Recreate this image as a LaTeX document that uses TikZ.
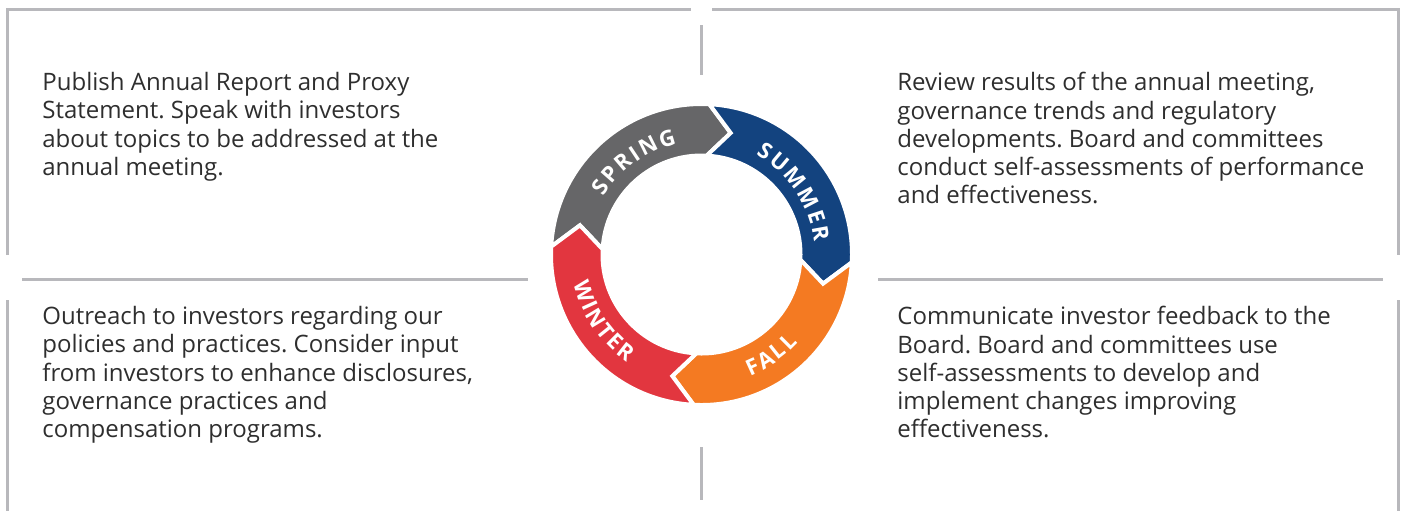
\documentclass[tikz,border=0pt]{standalone}
\usepackage{fontspec}
\setmainfont{Open Sans}
\newfontfamily\seasonfont{Open Sans}[WordSpace=0.4]
\usepackage{xcolor}
\usetikzlibrary{decorations.text}
\definecolor{rule}{HTML}{B8B8BC}
\definecolor{ink}{HTML}{2E2E2E}
\definecolor{springgray}{HTML}{666668}
\definecolor{summerblue}{HTML}{13437F}
\definecolor{fallorange}{HTML}{F47A22}
\definecolor{winterred}{HTML}{E2363F}
\frenchspacing
\tikzset{
  frameline/.style={draw=rule, line width=1.5pt},
  notebox/.style={anchor=north west, inner sep=0pt, align=left, text=ink, font=\fontsize{12}{14.15}\selectfont},
  seasonpart/.style={draw=white, line width=2pt},
  seasonlabel/.style={decorate, decoration={text along path, text align=center, text color=white, text={|\seasonfont\bfseries\fontsize{11}{13}\selectfont|#1}}}
}

\begin{document}
\begin{tikzpicture}[x=0.5pt, y=-0.5pt]
  \useasboundingbox (0,0) rectangle (1404,511);
  % frame
  \draw[frameline] (7,255) -- (7,9) -- (691,9);
  \draw[frameline] (712,9) -- (1398,9) -- (1398,255);
  \draw[frameline] (701,25) -- (701,75);
  \draw[frameline] (22,279) -- (528,279);
  \draw[frameline] (878,279) -- (1383,279);
  \draw[frameline] (7,300) -- (7,511);
  \draw[frameline] (1398,300) -- (1398,511);
  \draw[frameline] (701,447) -- (701,500);
  % notes
  \node[notebox] (spring note) at (42,72) {Publish Annual Report and Proxy\\Statement. Speak with investors\\about topics to be addressed at the\\annual meeting.};
  \node[notebox] (summer note) at (897,72) {Review results of the annual meeting,\\governance trends and regulatory\\developments. Board and committees\\conduct self-assessments of performance\\and effectiveness.};
  \node[notebox] (winter note) at (42,306) {Outreach to investors regarding our\\policies and practices. Consider input\\from investors to enhance disclosures,\\governance practices and\\compensation programs.};
  \node[notebox] (fall note) at (897,306) {Communicate investor feedback to the\\Board. Board and committees use\\self-assessments to develop and\\implement changes improving\\effectiveness.};
  % season ring
  \begin{scope}[shift={(701.5,254.5)}, y=0.5pt]
    \foreach \a/\col in {177/springgray, 87/summerblue, -3/fallorange, -93/winterred}
      \path[seasonpart, fill=\col] (\a:150.5) arc[start angle=\a, end angle=\a-90, radius=150.5]
        -- (\a-100.5:125) -- (\a-90:99) arc[start angle=\a-90, end angle=\a, radius=99]
        -- (\a-10.5:125) -- cycle;
    \path[seasonlabel={S P R I N G}] (166:113.3) arc[start angle=166, end angle=86, radius=113.3];
    \path[seasonlabel={S U M M E R}] (74:113.3) arc[start angle=74, end angle=-6, radius=113.3];
    \path[seasonlabel={F A L L}] (-95.3:130.7) arc[start angle=-95.3, end angle=-15.3, radius=130.7];
    \path[seasonlabel={W I N T E R}] (173.9:130.7) arc[start angle=173.9, end angle=253.9, radius=130.7];
  \end{scope}
\end{tikzpicture}
\end{document}
